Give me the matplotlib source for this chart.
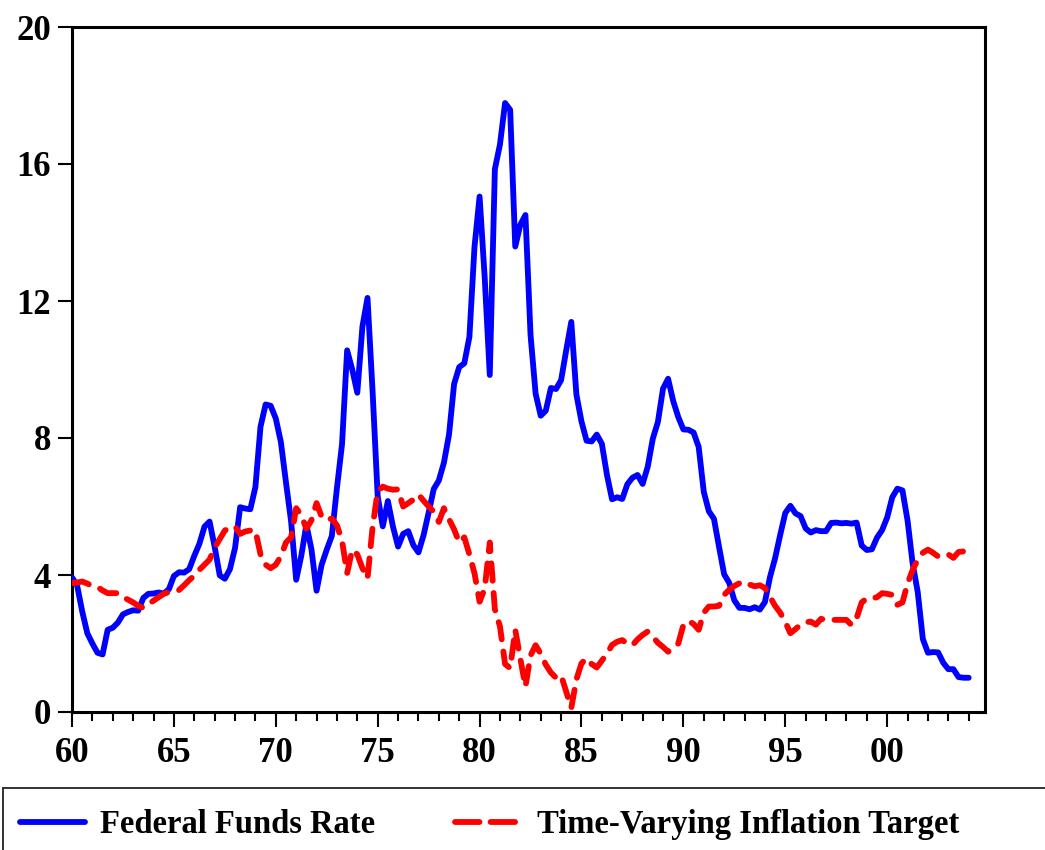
import numpy as np
import matplotlib
matplotlib.use("Agg")
import matplotlib.pyplot as plt
from matplotlib.lines import Line2D
from matplotlib.patches import Rectangle
from matplotlib.ticker import FixedLocator, MultipleLocator

# ---------------- data (quarterly, 1960Q1 - 2004Q1) ----------------
start_year = 1960
fed_funds_rate = [
    3.93, 3.70, 2.94, 2.30,   # 1960
    2.00, 1.73, 1.68, 2.40,   # 1961
    2.46, 2.61, 2.85, 2.92,   # 1962
    2.97, 2.96, 3.33, 3.45,   # 1963
    3.46, 3.49, 3.46, 3.58,   # 1964
    3.97, 4.08, 4.07, 4.17,   # 1965
    4.56, 4.91, 5.41, 5.56,   # 1966
    4.82, 3.99, 3.89, 4.17,   # 1967
    4.79, 5.98, 5.94, 5.92,   # 1968
    6.57, 8.33, 8.98, 8.94,   # 1969
    8.57, 7.88, 6.70, 5.57,   # 1970
    3.86, 4.56, 5.47, 4.75,   # 1971
    3.54, 4.30, 4.74, 5.14,   # 1972
    6.54, 7.82, 10.56, 10.00, # 1973
    9.32, 11.25, 12.09, 9.35, # 1974
    6.30, 5.42, 6.16, 5.41,   # 1975
    4.83, 5.20, 5.28, 4.87,   # 1976
    4.66, 5.16, 5.82, 6.51,   # 1977
    6.76, 7.28, 8.10, 9.58,   # 1978
    10.07, 10.18, 10.95, 13.58,  # 1979
    15.05, 12.69, 9.84, 15.85,   # 1980
    16.57, 17.78, 17.58, 13.59,  # 1981
    14.23, 14.51, 11.01, 9.29,   # 1982
    8.65, 8.80, 9.46, 9.43,   # 1983
    9.69, 10.56, 11.39, 9.27, # 1984
    8.48, 7.92, 7.90, 8.10,   # 1985
    7.83, 6.92, 6.21, 6.27,   # 1986
    6.22, 6.65, 6.84, 6.92,   # 1987
    6.66, 7.16, 7.98, 8.47,   # 1988
    9.44, 9.73, 9.08, 8.61,   # 1989
    8.25, 8.24, 8.16, 7.74,   # 1990
    6.43, 5.86, 5.64, 4.82,   # 1991
    4.02, 3.77, 3.26, 3.04,   # 1992
    3.04, 3.00, 3.06, 2.99,   # 1993
    3.21, 3.94, 4.49, 5.17,   # 1994
    5.81, 6.02, 5.80, 5.72,   # 1995
    5.36, 5.24, 5.31, 5.28,   # 1996
    5.28, 5.52, 5.53, 5.51,   # 1997
    5.52, 5.50, 5.53, 4.86,   # 1998
    4.73, 4.75, 5.09, 5.31,   # 1999
    5.68, 6.27, 6.52, 6.47,   # 2000
    5.59, 4.33, 3.50, 2.13,   # 2001
    1.73, 1.75, 1.74, 1.44,   # 2002
    1.25, 1.25, 1.02, 1.00,   # 2003
    1.00,                     # 2004
]
inflation_target = [
    3.76, 3.78, 3.81, 3.75, 3.68, 3.65, 3.55, 3.47, 3.47, 3.47,
    3.35, 3.28, 3.20, 3.10, 3.04, 3.15, 3.25, 3.35, 3.45, 3.50,
    3.52, 3.56, 3.70, 3.85, 3.98, 4.15, 4.30, 4.45, 4.80, 5.05,
    5.30, 5.38, 5.42, 5.20, 5.27, 5.30, 5.30, 4.60, 4.30, 4.20,
    4.30, 4.55, 4.95, 5.10, 5.95, 5.75, 5.35, 5.60, 6.10, 5.70,
    5.60, 5.65, 5.45, 5.00, 4.05, 4.74, 4.60, 4.20, 3.90, 5.40,
    6.45, 6.58, 6.52, 6.49, 6.50, 6.00, 6.10, 6.20, 6.35, 6.17,
    6.00, 5.85, 5.55, 5.95, 5.63, 5.33, 4.95, 5.10, 4.60, 4.05,
    3.22, 3.60, 4.95, 3.00, 2.50, 1.40, 1.28, 2.40, 1.55, 0.74,
    1.65, 1.95, 1.70, 1.38, 1.15, 1.00, 1.07, 0.60, 0.12, 0.95,
    1.42, 1.57, 1.40, 1.30, 1.50, 1.70, 1.96, 2.05, 2.10, 2.00,
    1.95, 2.12, 2.25, 2.35, 2.20, 2.02, 1.90, 1.76, 1.88, 2.00,
    2.54, 2.66, 2.57, 2.40, 2.90, 3.08, 3.08, 3.10, 3.42, 3.57,
    3.68, 3.76, 3.80, 3.72, 3.67, 3.70, 3.62, 3.36, 3.10, 2.90,
    2.63, 2.30, 2.42, 2.55, 2.62, 2.64, 2.55, 2.72, 2.69, 2.69,
    2.69, 2.69, 2.69, 2.54, 2.74, 3.20, 3.32, 3.32, 3.35, 3.47,
    3.45, 3.42, 3.13, 3.20, 3.75, 4.15, 4.45, 4.65, 4.74, 4.65,
    4.54, 4.57, 4.60, 4.50, 4.67, 4.69, 4.93,
]
x_major_years = [1960, 1965, 1970, 1975, 1980, 1985, 1990, 1995, 2000]
x_major_labels = ["60", "65", "70", "75", "80", "85", "90", "95", "00"]
y_ticks = [0, 4, 8, 12, 16, 20]
series_names = ["Federal Funds Rate", "Time-Varying Inflation Target"]

dates = start_year + np.arange(len(fed_funds_rate)) / 4.0

# ---------------- figure ----------------
W, H = 1045, 850
fig = plt.figure(figsize=(W / 100, H / 100), dpi=100)
fig.patch.set_facecolor("white")

def fx(px):
    return px / W

def fy(py):
    return (H - py) / H

ax = fig.add_axes([fx(72), fy(712), fx(985) - fx(72), fy(27) - fy(712)])

FONT = "Liberation Serif"
BLUE = "#0000FF"
RED = "#FF0000"
LW = 4.2

ax.plot(dates, fed_funds_rate, color=BLUE, lw=LW,
        solid_capstyle="round", solid_joinstyle="round", zorder=3)
ax.plot(dates, inflation_target, color=RED, lw=LW, dashes=(3.0, 2.1),
        dash_capstyle="round", dash_joinstyle="round", zorder=3)

ax.set_xlim(1960, 2004.8)
ax.set_ylim(0, 20)

for s in ax.spines.values():
    s.set_linewidth(2.2)
    s.set_color("black")

ax.xaxis.set_major_locator(FixedLocator(x_major_years))
ax.set_xticklabels(x_major_labels)
ax.xaxis.set_minor_locator(MultipleLocator(1))
ax.set_yticks(y_ticks)
ax.set_yticklabels([str(v) for v in y_ticks])

ax.tick_params(axis="x", which="major", direction="out", length=11,
               width=1.5, pad=7, top=False)
ax.tick_params(axis="x", which="minor", direction="out", length=6.5,
               width=1.5, top=False)
ax.tick_params(axis="y", which="major", direction="out", length=10,
               width=1.5, pad=5, right=False)
for lab in ax.get_xticklabels() + ax.get_yticklabels():
    lab.set_fontfamily(FONT)
    lab.set_fontweight("bold")
    lab.set_fontsize(25)

# ---------------- legend box below ----------------
fig.add_artist(Rectangle((fx(3), fy(852)), fx(1060) - fx(3), fy(788) - fy(852),
                         transform=fig.transFigure, facecolor="white",
                         edgecolor="#222222", lw=1.3, zorder=1))
fig.add_artist(Line2D([fx(20), fx(85)], [fy(822), fy(822)],
                      transform=fig.transFigure, color=BLUE, lw=LW,
                      solid_capstyle="round", zorder=2))
fig.add_artist(Line2D([fx(455), fx(517)], [fy(822), fy(822)],
                      transform=fig.transFigure, color=RED, lw=LW,
                      dashes=(4.2, 1.9), dash_capstyle="round", zorder=2))
fig.text(fx(100), fy(833), series_names[0], family=FONT, weight="bold",
         fontsize=23.5, va="baseline", ha="left")
fig.text(fx(537), fy(833), series_names[1], family=FONT, weight="bold",
         fontsize=23.5, va="baseline", ha="left")

fig.savefig("out.png", dpi=100, facecolor="white")
